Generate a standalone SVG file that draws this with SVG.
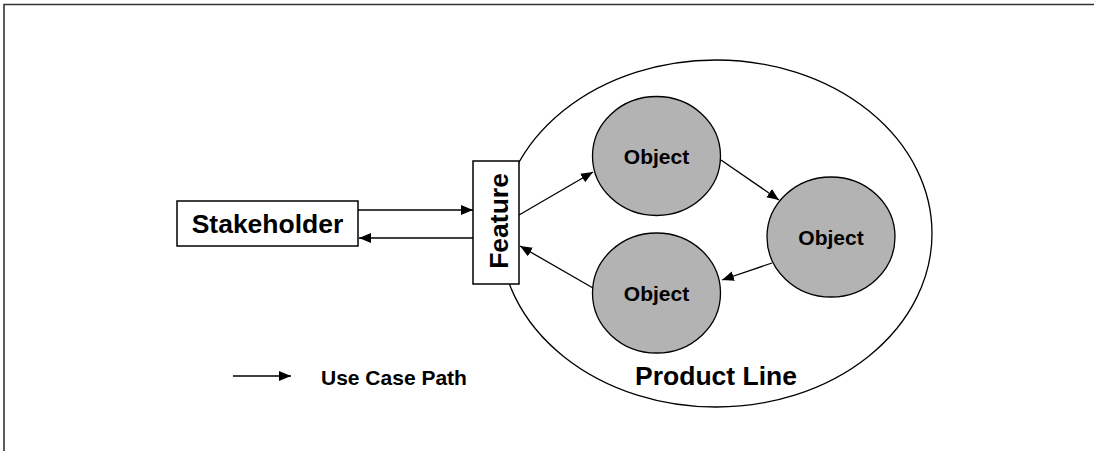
<svg xmlns="http://www.w3.org/2000/svg" width="1094" height="451" viewBox="0 0 1094 451">
<style>
.ln{stroke:#000;stroke-width:1.3;fill:none}
.obj{fill:#b3b3b3;stroke:#000;stroke-width:1.3}
.box{fill:#fff;stroke:#000;stroke-width:1.5}
.t{font-family:"Liberation Sans",Arial,sans-serif;font-weight:bold;fill:#000;text-anchor:middle}
</style>
<defs>
<marker id="ah" markerUnits="userSpaceOnUse" markerWidth="14" markerHeight="12" refX="12" refY="5" orient="auto">
<path d="M0,0 L12,5 L0,10 Z" fill="#000"/>
</marker>
</defs>
<rect width="1094" height="451" fill="#fff"/>
<path d="M4,451 V4.5 H1094" fill="none" stroke="#333" stroke-width="1.6"/>
<g id="product-line">
<ellipse cx="716" cy="233.5" rx="216" ry="173.5" fill="none" stroke="#000" stroke-width="1.3"/>
<text class="t" x="716" y="385" font-size="26.5">Product Line</text>
</g>
<g id="stakeholder">
<rect class="box" x="177" y="201" width="181" height="45"/>
<text class="t" x="267.5" y="233" font-size="26.5">Stakeholder</text>
</g>
<g id="feature">
<rect class="box" x="473" y="161" width="46" height="123"/>
<text class="t" transform="translate(508,221) rotate(-90)" x="0" y="0" font-size="26.5">Feature</text>
</g>
<g id="object1">
<ellipse class="obj" cx="656.5" cy="156" rx="64" ry="59.5"/>
<text class="t" x="656.5" y="163.5" font-size="21">Object</text>
</g>
<g id="object2">
<ellipse class="obj" cx="831" cy="237" rx="64" ry="60"/>
<text class="t" x="831" y="245" font-size="21">Object</text>
</g>
<g id="object3">
<ellipse class="obj" cx="656.5" cy="293" rx="64" ry="60"/>
<text class="t" x="656.5" y="300.5" font-size="21">Object</text>
</g>
<g id="connectors">
<line class="ln" x1="358" y1="210" x2="473" y2="210" marker-end="url(#ah)"/>
<line class="ln" x1="473" y1="238" x2="359" y2="238" marker-end="url(#ah)"/>
<line class="ln" x1="519" y1="215" x2="593" y2="172" marker-end="url(#ah)"/>
<line class="ln" x1="721" y1="160" x2="779" y2="200" marker-end="url(#ah)"/>
<line class="ln" x1="772" y1="263" x2="722" y2="280" marker-end="url(#ah)"/>
<line class="ln" x1="593" y1="288" x2="520" y2="246" marker-end="url(#ah)"/>
</g>
<g id="legend">
<line class="ln" x1="233" y1="376" x2="291" y2="376" marker-end="url(#ah)"/>
<text class="t" x="321" y="385" font-size="21" style="text-anchor:start">Use Case Path</text>
</g>
</svg>
